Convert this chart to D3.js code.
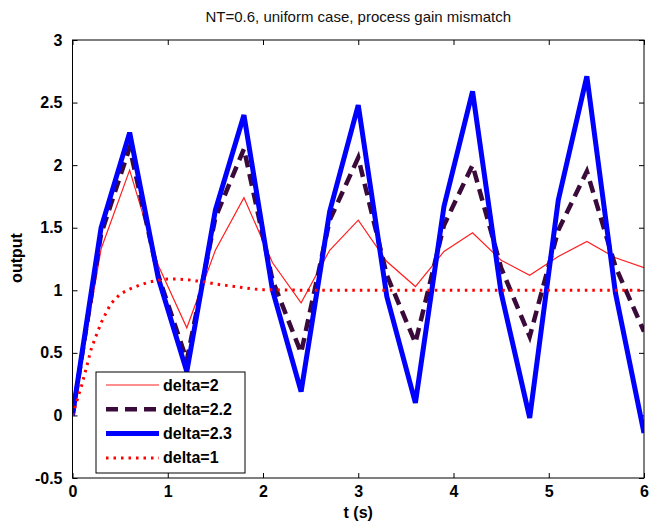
<!DOCTYPE html>
<html>
<head>
<meta charset="utf-8">
<script src="https://cdn.jsdelivr.net/npm/d3@7"></script>
<style>
  body { margin: 0; background: #fff; }
  text { font-family: "Liberation Sans", Arial, sans-serif; }
  .tick text { font-size: 16px; font-weight: bold; fill: #000; }
</style>
</head>
<body>
<div id="chart"></div>
<script>
// sample times (s)
var tSamples = [0, 0.3, 0.6, 0.9, 1.2, 1.5, 1.8, 2.1, 2.4, 2.7, 3.0, 3.3, 3.6, 3.9, 4.2, 4.5, 4.8, 5.1, 5.4, 5.7, 6.0];

var delta2 = [0, 1.33, 1.96, 1.20, 0.70, 1.32, 1.74, 1.22, 0.90, 1.32, 1.56, 1.23, 1.03, 1.31, 1.46, 1.24, 1.12, 1.27, 1.39, 1.26, 1.18];
var delta22 = [0, 1.45, 2.14, 1.12, 0.44, 1.58, 2.13, 1.08, 0.50, 1.56, 2.06, 1.12, 0.58, 1.52, 2.00, 1.18, 0.63, 1.48, 1.95, 1.19, 0.67];
var delta23 = [0, 1.50, 2.26, 1.10, 0.35, 1.64, 2.40, 1.00, 0.19, 1.63, 2.48, 0.95, 0.10, 1.67, 2.59, 0.98, -0.02, 1.72, 2.71, 0.98, -0.14];

// delta=1 response (smooth curve)
var tFine = [0, 0.1, 0.2, 0.3, 0.4, 0.5, 0.6, 0.7, 0.8, 0.9, 1.0, 1.1, 1.2, 1.3, 1.4, 1.5, 1.6, 1.7, 1.8, 1.9, 2.0, 2.5, 3, 4, 5, 6];
var delta1 = [0, 0.25, 0.54, 0.74, 0.89, 0.97, 1.01, 1.04, 1.065, 1.08, 1.09, 1.09, 1.085, 1.075, 1.065, 1.05, 1.04, 1.03, 1.02, 1.01, 1.005, 1, 1, 1, 1, 1];

var xTicks = [0, 1, 2, 3, 4, 5, 6];
var yTicks = [-0.5, 0, 0.5, 1, 1.5, 2, 2.5, 3];

var legendLabels = ["delta=2", "delta=2.2", "delta=2.3", "delta=1"];

var width = 649;
var height = 525;
var margin = {top: 40, left: 72.5, right: 5, bottom: 47};

var svg = d3.select("#chart")
  .append("svg")
  .attr("width", width)
  .attr("height", height);

var xScale = d3.scaleLinear()
  .domain([0, 6])
  .range([margin.left, width - margin.right]);

var yScale = d3.scaleLinear()
  .domain([-0.5, 3])
  .range([height - margin.bottom, margin.top]);

svg.append("clipPath").attr("id", "plotClip")
  .append("rect")
  .attr("x", margin.left)
  .attr("y", margin.top)
  .attr("width", width - margin.right - margin.left)
  .attr("height", height - margin.bottom - margin.top);

// axes with inward ticks (box style)
svg.append("g")
  .attr("transform", `translate(0,${height - margin.bottom})`)
  .call(d3.axisBottom(xScale).tickValues(xTicks).tickSizeInner(-5).tickSizeOuter(0).tickPadding(8).tickFormat(d3.format("d")));

svg.append("g")
  .attr("transform", `translate(0,${margin.top})`)
  .call(d3.axisTop(xScale).tickValues(xTicks).tickSizeInner(-5).tickSizeOuter(0).tickFormat(""));

svg.append("g")
  .attr("transform", `translate(${margin.left},0)`)
  .call(d3.axisLeft(yScale).tickValues(yTicks).tickSizeInner(-5).tickSizeOuter(0).tickPadding(10).tickFormat(function(d) { return String(d); }));

svg.append("g")
  .attr("transform", `translate(${width - margin.right},0)`)
  .call(d3.axisRight(yScale).tickValues(yTicks).tickSizeInner(-5).tickSizeOuter(0).tickFormat(""));

svg.selectAll(".domain").remove();
svg.selectAll(".tick line").attr("stroke", "#000");

var styles = [
  {data: delta2, t: tSamples, color: "#ff2020", w: 1.2, dash: null},
  {data: delta22, t: tSamples, color: "#3a0a3a", w: 4.5, dash: "12,7"},
  {data: delta23, t: tSamples, color: "#0000ff", w: 5, dash: null},
  {data: delta1, t: tFine, color: "#ff0000", w: 3, dash: "2.5,5"}
];

var line = d3.line()
  .x(function(d) { return xScale(d[0]); })
  .y(function(d) { return yScale(d[1]); });

var plot = svg.append("g").attr("clip-path", "url(#plotClip)");

styles.forEach(function(s) {
  var pts = s.t.map(function(t, i) { return [t, s.data[i]]; });
  plot.append("path")
    .datum(pts)
    .attr("d", line)
    .attr("fill", "none")
    .attr("stroke", s.color)
    .attr("stroke-width", s.w)
    .attr("stroke-dasharray", s.dash)
    .attr("stroke-linejoin", "miter");
});

// frame
svg.append("rect")
  .attr("x", margin.left)
  .attr("y", margin.top)
  .attr("width", width - margin.right - margin.left)
  .attr("height", height - margin.bottom - margin.top)
  .attr("fill", "none")
  .attr("stroke", "#000")
  .attr("stroke-width", 1);

// legend
var legend = svg.append("g");
legend.append("rect")
  .attr("x", 96)
  .attr("y", 372)
  .attr("width", 149)
  .attr("height", 101)
  .attr("fill", "#fff")
  .attr("stroke", "#000")
  .attr("stroke-width", 1);

legendLabels.forEach(function(lbl, i) {
  var y = 385 + i * 24.3;
  legend.append("line")
    .attr("x1", 106).attr("x2", 159)
    .attr("y1", y).attr("y2", y)
    .attr("stroke", styles[i].color)
    .attr("stroke-width", styles[i].w)
    .attr("stroke-dasharray", styles[i].dash);
  legend.append("text")
    .attr("x", 163)
    .attr("y", y + 5.5)
    .attr("font-size", 16)
    .attr("font-weight", "bold")
    .text(lbl);
});

// title and labels
svg.append("text")
  .attr("x", (margin.left + width - margin.right) / 2)
  .attr("y", 22)
  .attr("text-anchor", "middle")
  .attr("font-size", 15)
  .attr("fill", "#111")
  .text("NT=0.6, uniform case, process gain mismatch");

svg.append("text")
  .attr("x", (margin.left + width - margin.right) / 2)
  .attr("y", 518)
  .attr("text-anchor", "middle")
  .attr("font-size", 16)
  .attr("font-weight", "bold")
  .text("t (s)");

svg.append("text")
  .attr("transform", "rotate(-90)")
  .attr("x", -258)
  .attr("y", 22)
  .attr("text-anchor", "middle")
  .attr("font-size", 16)
  .attr("font-weight", "bold")
  .text("output");
</script>
</body>
</html>
